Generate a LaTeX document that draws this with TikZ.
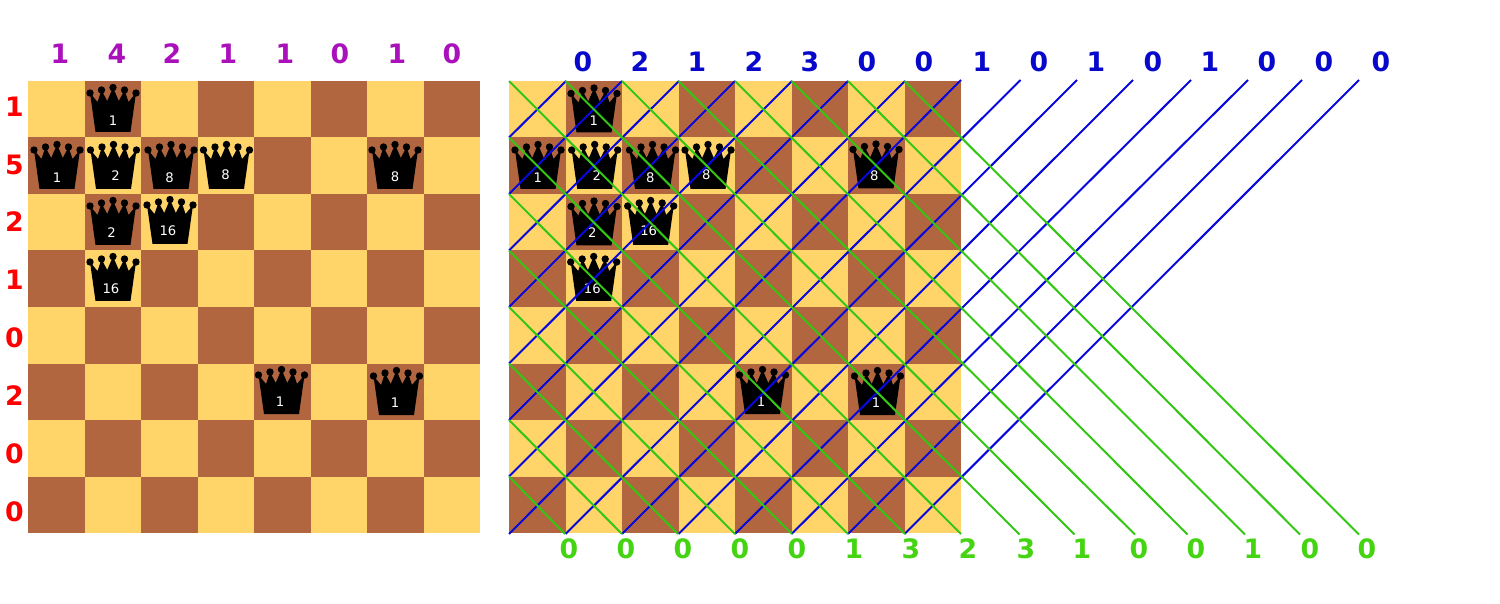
\documentclass[tikz,border=0pt]{standalone}
\usepackage{fontspec}
\setmainfont{DejaVu Sans}
\definecolor{lightsq}{HTML}{FFD469}
\definecolor{darksq}{HTML}{B16640}
\definecolor{bluenum}{HTML}{0808CC}
\definecolor{greennum}{HTML}{44D411}
\definecolor{purplenum}{HTML}{AA11BB}
\definecolor{blueline}{HTML}{0808DC}
\definecolor{greenline}{HTML}{33C714}
\tikzset{
  num/.style={font=\fontsize{15.2}{15.2}\selectfont\bfseries,inner sep=0pt,text height=11pt,text depth=0pt},
  qnum/.style={font=\fontsize{7.5}{7.5}\selectfont,text=white,inner sep=0pt,text height=5.5pt,text depth=0pt},
  bline/.style={blueline,line width=1.15pt},
  gline/.style={greenline,line width=1.15pt},
}
% crown whose base centre is at (#1,#2)
\newcommand{\crown}[2]{
 \fill[black] (#1-17.5,#2) -- (#1-23,#2-39) -- (#1-15.5,#2-30) -- (#1-11.5,#2-42) -- (#1-5.8,#2-31)
   -- (#1,#2-44.5) -- (#1+5.8,#2-31) -- (#1+11.5,#2-42) -- (#1+15.5,#2-30) -- (#1+23,#2-39) -- (#1+17.5,#2) -- cycle;
 \foreach \dx/\dy in {-23/39,-11.5/42,0/44.5,11.5/42,23/39}
   \fill[black] (#1+\dx,#2-\dy) circle [radius=3.7];
}
\begin{document}
\begin{tikzpicture}[x=0.02cm,y=-0.02cm]
 \useasboundingbox (0,0) rectangle (1500,604);
 % the two boards
 \foreach \bx in {28.3,509}
  \foreach \r in {0,...,7}
   \foreach \c in {0,...,7}{
    \pgfmathtruncatemacro{\sqpar}{mod(\r+\c,2)}
    \ifnum\sqpar=0\relax\def\col{lightsq}\else\def\col{darksq}\fi
    \fill[\col] (\bx+56.5*\c,81+56.5*\r) rectangle +(56.5,56.5);
   }
 % left board, queens
 \foreach \cx/\by/\lx/\ly/\w [count=\i] in {113/132/113/121/1,57/189/57/178/1,113.5/189/115.5/175.5/2,
   171/189/169.5/177.5/8,226.5/189/225.5/175/8,395/189/395/177/8,113/245/111.5/233/2,170/244/168/231/16,
   113/301/111/289/16,281.5/414/280/402/1,396.5/415/395/403/1}{
  \crown{\cx}{\by}
  \node[qnum] (lq\i) at (\lx,\ly) {\w};
 }
 % right board, queens
 \foreach \cx/\by/\lx/\ly/\w [count=\i] in {594/132.5/593.7/120.7/1,538/189/537.7/177.7/1,594.7/189/596.7/175.7/2,
   652.5/189/650.3/177.3/8,708/189/706.3/174.3/8,876/188.5/874.3/175.7/8,594/245.5/592.3/232.7/2,650.7/245/648.7/230.7/16,
   593.7/301/592.3/288.7/16,762.5/414/761/402/1,877.5/415/876/403/1}{
  \crown{\cx}{\by}
  \node[qnum] (rq\i) at (\lx,\ly) {\w};
 }
 % blue lines
 \foreach \k/\tx in {1/566,2/622,3/679,4/735,5/792,6/848,7/905}
  \draw[bline] (509,81+56.5*\k) -- (\tx,81);
 \foreach \k/\tx in {0/961,1/1020.5,2/1077,3/1133,4/1191,5/1248,6/1302,7/1359}
  \draw[bline] (509+56.5*\k,534) -- (\tx,80);
 % green lines
 \foreach \k/\bx in {7/565,6/622,5/678,4/735,3/792,2/848,1/905,0/961}
  \draw[gline] (509,81+56.5*\k) -- (\bx,534);
 \foreach \k/\bx in {1/1019.5,2/1074.5,3/1135,4/1187.5,5/1245,6/1300,7/1359}
  \draw[gline] (509+56.5*\k,81) -- (\bx,534.5);
 % numbers
 \foreach \v/\x [count=\i] in {1/60,4/117,2/172,1/228,1/285,0/340,1/397,0/452}
  \node[num,text=purplenum] (ltop\i) at (\x,54) {\v};
 \foreach \v/\y [count=\i] in {1/106.5,5/164.5,2/222,1/280,0/338,2/396,0/454,0/512}
  \node[num,text=red] (lrow\i) at (14.5,\y) {\v};
 \foreach \v/\x [count=\i] in {0/583,2/640,1/697,2/754,3/810,0/867,0/924,1/982,0/1039,1/1096,0/1153,1/1210,0/1267,0/1324,0/1381}
  \node[num,text=bluenum] (rtop\i) at (\x,62) {\v};
 \foreach \v/\x [count=\i] in {0/569,0/626,0/683,0/740,0/797,1/854,3/911,2/968,3/1026,1/1082,0/1139,0/1196,1/1253,0/1310,0/1367}
  \node[num,text=greennum] (rbot\i) at (\x,549) {\v};
\end{tikzpicture}
\end{document}
